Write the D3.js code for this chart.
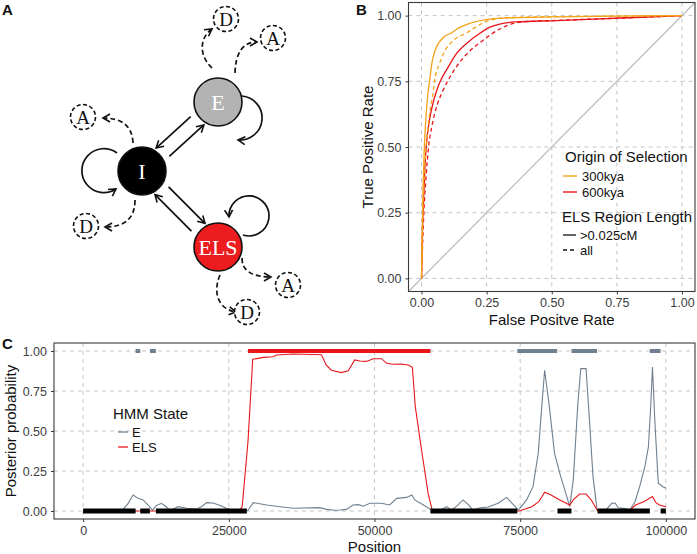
<!DOCTYPE html>
<html>
<head>
<meta charset="utf-8">
<script src="https://cdn.jsdelivr.net/npm/d3@7"></script>
<style>
  body { margin: 0; background: #fff; }
  svg { display: block; font-family: "Liberation Sans", Arial, sans-serif; }
</style>
</head>
<body>
<div id="root"></div>
<script>
// ---------- panel A: HMM states ----------
const hmmStates = ["I", "E", "ELS"];
const emissions = [
  ["I", "A"], ["I", "D"],
  ["E", "D"], ["E", "A"],
  ["ELS", "A"], ["ELS", "D"]
];

// ---------- panel B: ROC curves, [false positive rate, true positive rate] ----------
const roc300Long = [[0,0],[0.003,0.2],[0.006,0.35],[0.01,0.48],[0.015,0.58],[0.022,0.68],[0.031,0.75],[0.04,0.82],[0.052,0.867],[0.084,0.917],[0.116,0.935],[0.136,0.949],[0.19,0.972],[0.263,0.987],[0.35,0.992],[0.5,0.995],[0.75,0.998],[1,1]];
const roc300All = [[0,0],[0.004,0.2],[0.008,0.33],[0.014,0.45],[0.018,0.5],[0.03,0.62],[0.045,0.71],[0.05,0.75],[0.07,0.82],[0.09,0.867],[0.116,0.9],[0.174,0.935],[0.21,0.958],[0.25,0.978],[0.327,0.992],[0.5,0.996],[0.75,0.998],[1,1]];
const roc600Long = [[0,0],[0.004,0.2],[0.008,0.3],[0.013,0.42],[0.018,0.5],[0.03,0.6],[0.045,0.67],[0.06,0.72],[0.072,0.75],[0.1,0.8],[0.13,0.85],[0.18,0.9],[0.22,0.93],[0.263,0.956],[0.3,0.968],[0.36,0.976],[0.52,0.981],[0.77,0.991],[1,1]];
const roc600All = [[0,0],[0.005,0.15],[0.01,0.27],[0.017,0.38],[0.027,0.5],[0.04,0.58],[0.06,0.66],[0.08,0.71],[0.1,0.75],[0.13,0.8],[0.17,0.85],[0.235,0.905],[0.3,0.949],[0.36,0.972],[0.4,0.977],[0.52,0.982],[0.77,0.991],[1,1]];
const rateTicks = [0, 0.25, 0.5, 0.75, 1];

// ---------- panel C: posterior probabilities along the sequence ----------
const ePosition = [0,6000,6860,7720,8580,9440,10300,11150,11900,12600,13450,14300,14900,16300,17800,19500,20300,21200,22300,23500,24600,25700,28300,29200,30300,31500,33800,36000,40600,41800,43200,44100,45200,46300,47200,48100,49200,51200,52600,53800,55500,56400,56900,58400,59800,61200,62400,63200,64100,65200,66100,66900,68100,69500,71200,72700,73500,74700,76100,77200,78100,78700,79200,80000,80900,81800,83000,83500,84100,84900,85400,86300,86700,87500,88200,89800,90700,91300,91800,93000,93800,94700,95500,96400,97000,97400,97700,98100,98700,99500,100000];
const eProb = [0,0.003,0.01,0.048,0.1,0.079,0.069,0.0375,0.005,0.035,0.048,0.025,0.002,0.027,0.017,0.012,0.027,0.052,0.05,0.035,0.017,0.002,0.005,0.052,0.045,0.0375,0.027,0.017,0.021,0.01,0.005,0.006,0.01,0.0375,0.04,0.03,0.048,0.048,0.0375,0.079,0.085,0.1,0.069,0.0375,0.006,0.003,0.027,0.005,0.03,0.069,0.04,0.005,0.02,0.025,0.048,0.085,0.052,0.006,0.069,0.152,0.36,0.652,0.88,0.652,0.36,0.235,0.09,0.027,0.19,0.673,0.89,0.89,0.673,0.215,0.006,0.01,0.048,0.05,0.02,0.015,0.005,0.058,0.152,0.277,0.4,0.652,0.9,0.569,0.173,0.152,0.142];
const elsPosition = [0,26800,27300,28300,29100,30900,32600,33200,36000,40900,41700,42600,44300,45500,46600,47500,48600,49800,51200,52100,53200,54600,55800,56500,57000,58000,59200,59900,74700,75000,77000,78200,79200,80300,81800,83500,84100,85200,86300,87200,88300,93700,94800,96200,97700,98300,98900,100000];
const elsProb = [0,0,0.03,0.44,0.948,0.96,0.964,0.975,0.981,0.977,0.9125,0.88,0.865,0.877,0.944,0.9375,0.935,0.952,0.952,0.923,0.917,0.919,0.9125,0.898,0.652,0.4,0.11,0.006,0,0.002,0.027,0.058,0.117,0.1,0.069,0.0375,0.069,0.106,0.106,0.069,0,0,0.0375,0.058,0.09,0.052,0.0375,0.027];
// true state segments [start, end]
const eSegments = [[9000,9800],[11450,12480],[74500,81350],[83800,88200],[97250,99100]];
const elsSegments = [[28300,59600]];
const iSegments = [[0,9000],[9800,11450],[12480,28100],[59600,74500],[81400,83800],[88270,97250],[99100,100000]];
const positionTicks = [0, 25000, 50000, 75000, 100000];
const probTicks = [0, 0.25, 0.5, 0.75, 1];

const width = 697;
const height = 554;

const svg = d3
  .select("#root")
  .append("svg")
  .attr("width", width)
  .attr("height", height)
  .attr("viewBox", [0, 0, width, height]);

svg.append("rect").attr("width", width).attr("height", height).attr("fill", "#fff");

const defs = svg.append("defs");
defs
  .append("marker")
  .attr("id", "arrow")
  .attr("markerUnits", "userSpaceOnUse")
  .attr("markerWidth", 12)
  .attr("markerHeight", 12)
  .attr("refX", 8)
  .attr("refY", 5)
  .attr("orient", "auto")
  .append("path")
  .attr("d", "M1,1 L8,5 L1,9")
  .attr("fill", "none")
  .attr("stroke", "#111")
  .attr("stroke-width", 1.6);

// panel letters
[["A", 2, 15], ["B", 356, 15], ["C", 2, 349]].forEach(([t, x, y]) => {
  svg
    .append("text")
    .attr("x", x)
    .attr("y", y)
    .attr("font-size", 15)
    .attr("font-weight", "bold")
    .attr("fill", "#111")
    .text(t);
});

// ================= Panel A =================
const nodeLayout = {
  I: { x: 142, y: 171, fill: "#000" },
  E: { x: 218, y: 102, fill: "#b3b3b3" },
  ELS: { x: 218, y: 247, fill: "#ec1c1f" }
};
const nodeR = 24;
const emitLayout = [
  { cx: 83, cy: 117, path: "M133,143 Q132,118 103,118" },
  { cx: 86, cy: 226, path: "M135,200 Q135,227 105,227" },
  { cx: 226, cy: 19, path: "M212,68 C199,56 199,38 212,29" },
  { cx: 273, cy: 38, path: "M235,73 Q236,42 257,42" },
  { cx: 288, cy: 285, path: "M242,258 Q242,277 271,277" },
  { cx: 247, cy: 312, path: "M220,275 C213,291 217,309 236,312" }
];
const loopPaths = {
  I: "M117,153 A22,22 0 1,0 116,189",
  E: "M242,96 A21,21 0 1,1 238,140",
  ELS: "M243,235 A20,20 0 1,0 229,217"
};

const gA = svg.append("g").attr("id", "panel-a");

// transitions between states (two parallel arrows per pair)
function pairLine(a, b, off, forward) {
  const dx = b.x - a.x, dy = b.y - a.y, L = Math.hypot(dx, dy);
  const ux = dx / L, uy = dy / L, nx = -uy, ny = ux;
  const ts = Math.sqrt(31 * 31 - off * off), te = Math.sqrt(27 * 27 - off * off);
  const near = forward ? ts : te, far = forward ? L - te : L - ts;
  const p = [a.x + nx * off + ux * near, a.y + ny * off + uy * near];
  const q = [a.x + nx * off + ux * far, a.y + ny * off + uy * far];
  return forward ? [p, q] : [q, p];
}
const transitions = [
  pairLine(nodeLayout.I, nodeLayout.E, 7.5, true),
  pairLine(nodeLayout.I, nodeLayout.E, -7.5, false),
  pairLine(nodeLayout.I, nodeLayout.ELS, -7.5, true),
  pairLine(nodeLayout.I, nodeLayout.ELS, 7.5, false)
];
gA.selectAll("line.trans")
  .data(transitions)
  .join("line")
  .attr("class", "trans")
  .attr("x1", (d) => d[0][0])
  .attr("y1", (d) => d[0][1])
  .attr("x2", (d) => d[1][0])
  .attr("y2", (d) => d[1][1])
  .attr("stroke", "#111")
  .attr("stroke-width", 1.7)
  .attr("marker-end", "url(#arrow)");

// self loops
gA.selectAll("path.loop")
  .data(hmmStates)
  .join("path")
  .attr("class", "loop")
  .attr("d", (d) => loopPaths[d])
  .attr("fill", "none")
  .attr("stroke", "#111")
  .attr("stroke-width", 1.7)
  .attr("marker-end", "url(#arrow)");

// emissions
gA.selectAll("path.emit")
  .data(emissions)
  .join("path")
  .attr("class", "emit")
  .attr("d", (d, i) => emitLayout[i].path)
  .attr("fill", "none")
  .attr("stroke", "#111")
  .attr("stroke-width", 1.7)
  .attr("stroke-dasharray", "5,3")
  .attr("marker-end", "url(#arrow)");

const emitG = gA.selectAll("g.obs")
  .data(emissions)
  .join("g")
  .attr("class", "obs")
  .attr("transform", (d, i) => `translate(${emitLayout[i].cx},${emitLayout[i].cy})`);
emitG
  .append("circle")
  .attr("r", 12.5)
  .attr("fill", "#fff")
  .attr("stroke", "#111")
  .attr("stroke-width", 1.6)
  .attr("stroke-dasharray", "4,2.5");
emitG
  .append("text")
  .attr("text-anchor", "middle")
  .attr("y", 7)
  .attr("font-family", "'Liberation Serif', 'Times New Roman', serif")
  .attr("font-size", 19)
  .attr("fill", "#111")
  .text((d) => d[1]);

const nodeG = gA.selectAll("g.state")
  .data(hmmStates)
  .join("g")
  .attr("class", "state")
  .attr("transform", (d) => `translate(${nodeLayout[d].x},${nodeLayout[d].y})`);
nodeG
  .append("circle")
  .attr("r", nodeR)
  .attr("fill", (d) => nodeLayout[d].fill)
  .attr("stroke", "#111")
  .attr("stroke-width", 1.6);
nodeG
  .append("text")
  .attr("text-anchor", "middle")
  .attr("y", 7.5)
  .attr("font-family", "'Liberation Serif', 'Times New Roman', serif")
  .attr("font-size", 22)
  .attr("fill", "#fff")
  .text((d) => d);

// ================= shared helpers =================
const gridColor = "#c4c4c4";
const borderColor = "#3a3a3a";
const tickColor = "#3a3a3a";

function drawFrame(g, x, y, xTicks, yTicks, xFmt, yFmt) {
  const [x0, x1] = x.range();
  const [y0, y1] = y.range();
  g.append("g")
    .selectAll("line")
    .data(xTicks)
    .join("line")
    .attr("x1", (d) => x(d))
    .attr("x2", (d) => x(d))
    .attr("y1", y1)
    .attr("y2", y0)
    .attr("stroke", gridColor)
    .attr("stroke-dasharray", "4,4");
  g.append("g")
    .selectAll("line")
    .data(yTicks)
    .join("line")
    .attr("y1", (d) => y(d))
    .attr("y2", (d) => y(d))
    .attr("x1", x0)
    .attr("x2", x1)
    .attr("stroke", gridColor)
    .attr("stroke-dasharray", "4,4");

  const xAxis = g
    .append("g")
    .attr("transform", `translate(0,${y0})`)
    .call(d3.axisBottom(x).tickValues(xTicks).tickFormat(xFmt).tickSize(3).tickPadding(4));
  const yAxis = g
    .append("g")
    .attr("transform", `translate(${x0},0)`)
    .call(d3.axisLeft(y).tickValues(yTicks).tickFormat(yFmt).tickSize(3).tickPadding(4));
  [xAxis, yAxis].forEach((a) => {
    a.select(".domain").remove();
    a.selectAll(".tick line").attr("stroke", tickColor);
    a.selectAll(".tick text")
      .attr("fill", "#3d3d3d")
      .attr("font-size", 12.5)
      .attr("font-family", "'Liberation Sans', Arial, sans-serif");
  });
  return { xAxis, yAxis };
}

function drawBorder(g, x, y) {
  const [x0, x1] = x.range();
  const [y0, y1] = y.range();
  g.append("rect")
    .attr("x", x0)
    .attr("y", y1)
    .attr("width", x1 - x0)
    .attr("height", y0 - y1)
    .attr("fill", "none")
    .attr("stroke", borderColor)
    .attr("stroke-width", 1.1);
}

// ================= Panel B =================
const gB = svg.append("g").attr("id", "panel-b");
const xB = d3.scaleLinear().domain([-0.05, 1.05]).range([408.5, 695]);
const yB = d3.scaleLinear().domain([-0.05, 1.05]).range([291.5, 2.5]);
const fmt2 = d3.format(".2f");

drawFrame(gB, xB, yB, rateTicks, rateTicks, fmt2, fmt2);

gB.append("line")
  .attr("x1", xB(-0.05))
  .attr("y1", yB(-0.05))
  .attr("x2", xB(1.05))
  .attr("y2", yB(1.05))
  .attr("stroke", "#bdbdbd")
  .attr("stroke-width", 1.3);

const rocLine = d3.line().x((d) => xB(d[0])).y((d) => yB(d[1])).curve(d3.curveMonotoneX);
const orange = "#f4a318";
const red = "#e8161b";
const rocSeries = [
  { data: roc600All, color: red, dash: "4,3" },
  { data: roc600Long, color: red, dash: null },
  { data: roc300All, color: orange, dash: "4,3" },
  { data: roc300Long, color: orange, dash: null }
];
gB.append("g")
  .selectAll("path")
  .data(rocSeries)
  .join("path")
  .attr("d", (d) => rocLine(d.data))
  .attr("fill", "none")
  .attr("stroke", (d) => d.color)
  .attr("stroke-width", 1.3)
  .attr("stroke-dasharray", (d) => d.dash);

drawBorder(gB, xB, yB);

gB.append("text")
  .attr("x", (xB.range()[0] + xB.range()[1]) / 2)
  .attr("y", 325)
  .attr("text-anchor", "middle")
  .attr("font-size", 15)
  .attr("fill", "#111")
  .text("False Positve Rate");
gB.append("text")
  .attr("transform", `translate(373,${(yB.range()[0] + yB.range()[1]) / 2}) rotate(-90)`)
  .attr("text-anchor", "middle")
  .attr("font-size", 15)
  .attr("fill", "#111")
  .text("True Positive Rate");

// legend B
const legB = gB.append("g").attr("id", "legend-b");
legB.append("text").attr("x", 565).attr("y", 162).attr("font-size", 15).attr("fill", "#111").text("Origin of Selection");
[["300kya", orange, 176], ["600kya", red, 192]].forEach(([t, c, y]) => {
  legB.append("line").attr("x1", 563).attr("x2", 577).attr("y1", y).attr("y2", y).attr("stroke", c).attr("stroke-width", 1.4);
  legB.append("text").attr("x", 582).attr("y", y + 4.5).attr("font-size", 13).attr("fill", "#111").text(t);
});
legB.append("text").attr("x", 562).attr("y", 222).attr("font-size", 15).attr("fill", "#111").text("ELS Region Length");
[[">0.025cM", null, 235], ["all", "4,3", 250]].forEach(([t, dash, y]) => {
  legB.append("line").attr("x1", 563).attr("x2", 576).attr("y1", y).attr("y2", y).attr("stroke", "#111").attr("stroke-width", 1.3).attr("stroke-dasharray", dash);
  legB.append("text").attr("x", 580).attr("y", y + 4.5).attr("font-size", 13).attr("fill", "#111").text(t);
});

// ================= Panel C =================
const gC = svg.append("g").attr("id", "panel-c");
const xC = d3.scaleLinear().domain([-5000, 105000]).range([54, 695]);
const yC = d3.scaleLinear().domain([-0.05, 1.05]).range([519, 343]);

drawFrame(gC, xC, yC, positionTicks, probTicks, d3.format("d"), fmt2);

const slate = "#708090";
const lineC = (xs, ys) => d3.line().x((d, i) => xC(xs[i])).y((d, i) => yC(ys[i]))(xs);

gC.append("path")
  .attr("d", lineC(ePosition, eProb))
  .attr("fill", "none")
  .attr("stroke", slate)
  .attr("stroke-width", 1.1);
gC.append("path")
  .attr("d", lineC(elsPosition, elsProb))
  .attr("fill", "none")
  .attr("stroke", red)
  .attr("stroke-width", 1.1);

function segments(data, yv, color, w) {
  gC.append("g")
    .selectAll("line")
    .data(data)
    .join("line")
    .attr("x1", (d) => xC(d[0]))
    .attr("x2", (d) => xC(d[1]))
    .attr("y1", yC(yv))
    .attr("y2", yC(yv))
    .attr("stroke", color)
    .attr("stroke-width", w);
}
segments(eSegments, 1, slate, 4);
segments(elsSegments, 1, red, 4);
segments(iSegments, 0, "#000", 5);

drawBorder(gC, xC, yC);

gC.append("text")
  .attr("x", (xC.range()[0] + xC.range()[1]) / 2)
  .attr("y", 552)
  .attr("text-anchor", "middle")
  .attr("font-size", 15)
  .attr("fill", "#111")
  .text("Position");
gC.append("text")
  .attr("transform", `translate(16,${(yC.range()[0] + yC.range()[1]) / 2}) rotate(-90)`)
  .attr("text-anchor", "middle")
  .attr("font-size", 15)
  .attr("fill", "#111")
  .text("Posterior probability");

const legC = gC.append("g").attr("id", "legend-c");
legC.append("text").attr("x", 113).attr("y", 419).attr("font-size", 15).attr("fill", "#111").text("HMM State");
[["E", slate, 432], ["ELS", red, 447]].forEach(([t, c, y]) => {
  legC.append("line").attr("x1", 118).attr("x2", 128).attr("y1", y).attr("y2", y).attr("stroke", c).attr("stroke-width", 1.3);
  legC.append("text").attr("x", 132).attr("y", y + 4.5).attr("font-size", 13).attr("fill", "#111").text(t);
});
</script>
</body>
</html>
